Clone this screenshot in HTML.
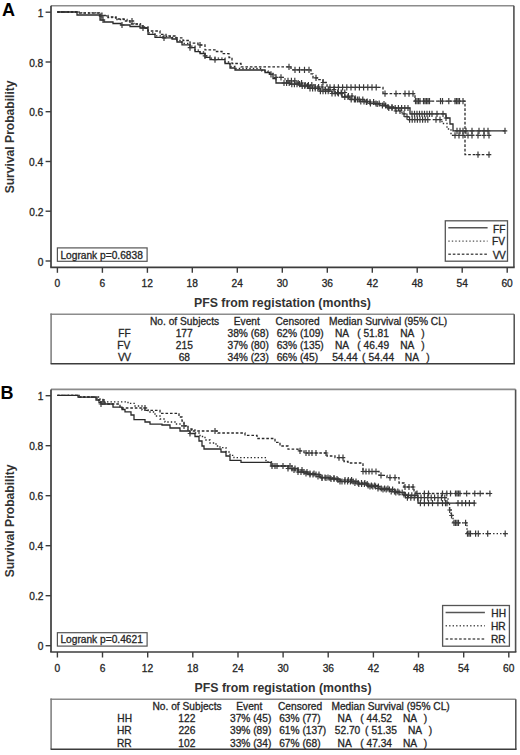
<!DOCTYPE html>
<html><head><meta charset="utf-8"><title>Kaplan-Meier PFS curves</title>
<style>
html,body{margin:0;padding:0;background:#fff;}
body{width:520px;height:755px;overflow:hidden;}
svg{display:block;}
text{font-family:"Liberation Sans", sans-serif;fill:#222;}
.tk{font-size:10.2px;stroke:#2a2a2a;stroke-width:0.3px;}
.tb{font-size:10.2px;stroke:#2a2a2a;stroke-width:0.3px;}
.lg{font-size:10.2px;stroke:#2a2a2a;stroke-width:0.3px;}
.xl{font-size:12.3px;font-weight:bold;fill:#333;}
.yl{font-size:12.1px;font-weight:bold;fill:#333;}
.pl{font-size:18px;font-weight:bold;fill:#000;}
</style></head>
<body>
<svg width="520" height="755" viewBox="0 0 520 755">
<rect width="520" height="755" fill="#fff"/>
<line x1="51" y1="5.8" x2="513.9" y2="5.8" stroke="#8c8c8c" stroke-width="1.6"/>
<line x1="513.9" y1="5.8" x2="513.9" y2="267.3" stroke="#505050" stroke-width="1.6"/>
<line x1="51" y1="5.8" x2="51" y2="267.3" stroke="#3c3c3c" stroke-width="1.7"/>
<line x1="50.2" y1="267.3" x2="514.7" y2="267.3" stroke="#3c3c3c" stroke-width="1.7"/>
<line x1="45.6" y1="261" x2="51" y2="261" stroke="#3c3c3c" stroke-width="1.4"/>
<text x="43.3" y="265.5" class="tk" text-anchor="end">0</text>
<line x1="45.6" y1="211.2" x2="51" y2="211.2" stroke="#3c3c3c" stroke-width="1.4"/>
<text x="43.4" y="215.7" class="tk" text-anchor="end">0.2</text>
<line x1="45.6" y1="161.5" x2="51" y2="161.5" stroke="#3c3c3c" stroke-width="1.4"/>
<text x="43.2" y="166" class="tk" text-anchor="end">0.4</text>
<line x1="45.6" y1="111.7" x2="51" y2="111.7" stroke="#3c3c3c" stroke-width="1.4"/>
<text x="43.3" y="116.2" class="tk" text-anchor="end">0.6</text>
<line x1="45.6" y1="62" x2="51" y2="62" stroke="#3c3c3c" stroke-width="1.4"/>
<text x="43.3" y="66.5" class="tk" text-anchor="end">0.8</text>
<line x1="45.6" y1="12.2" x2="51" y2="12.2" stroke="#3c3c3c" stroke-width="1.4"/>
<text x="43.4" y="16.7" class="tk" text-anchor="end">1</text>
<line x1="57.4" y1="267.3" x2="57.4" y2="272.8" stroke="#3c3c3c" stroke-width="1.4"/>
<text x="57.4" y="286.9" class="tk" text-anchor="middle">0</text>
<line x1="102.4" y1="267.3" x2="102.4" y2="272.8" stroke="#3c3c3c" stroke-width="1.4"/>
<text x="102.3" y="286.9" class="tk" text-anchor="middle">6</text>
<line x1="147.4" y1="267.3" x2="147.4" y2="272.8" stroke="#3c3c3c" stroke-width="1.4"/>
<text x="147.2" y="286.9" class="tk" text-anchor="middle">12</text>
<line x1="192.3" y1="267.3" x2="192.3" y2="272.8" stroke="#3c3c3c" stroke-width="1.4"/>
<text x="192.2" y="286.9" class="tk" text-anchor="middle">18</text>
<line x1="237.3" y1="267.3" x2="237.3" y2="272.8" stroke="#3c3c3c" stroke-width="1.4"/>
<text x="237.2" y="286.9" class="tk" text-anchor="middle">24</text>
<line x1="282.3" y1="267.3" x2="282.3" y2="272.8" stroke="#3c3c3c" stroke-width="1.4"/>
<text x="282.3" y="286.9" class="tk" text-anchor="middle">30</text>
<line x1="327.3" y1="267.3" x2="327.3" y2="272.8" stroke="#3c3c3c" stroke-width="1.4"/>
<text x="327.3" y="286.9" class="tk" text-anchor="middle">36</text>
<line x1="372.3" y1="267.3" x2="372.3" y2="272.8" stroke="#3c3c3c" stroke-width="1.4"/>
<text x="372.4" y="286.9" class="tk" text-anchor="middle">42</text>
<line x1="417.2" y1="267.3" x2="417.2" y2="272.8" stroke="#3c3c3c" stroke-width="1.4"/>
<text x="417.3" y="286.9" class="tk" text-anchor="middle">48</text>
<line x1="462.2" y1="267.3" x2="462.2" y2="272.8" stroke="#3c3c3c" stroke-width="1.4"/>
<text x="462.2" y="286.9" class="tk" text-anchor="middle">54</text>
<line x1="507.2" y1="267.3" x2="507.2" y2="272.8" stroke="#3c3c3c" stroke-width="1.4"/>
<text x="507.1" y="286.9" class="tk" text-anchor="middle">60</text>
<text x="194" y="307" class="xl">PFS from registation (months)</text>
<text transform="translate(14.2,136.9) rotate(-90)" text-anchor="middle" class="yl">Survival Probability</text>
<text x="2" y="15.9" class="pl">A</text>
<polyline points="57.3,12 77,12 77,15 100,15 100,20 104,20 104,22 113,22 113,23.5 121,23.5 121,25 130,25 130,26.5 140,26.5 140,28 148,28 148,34.4 155,34.4 155,37.3 163,37.3 163,37.9 172,37.9 172,39 177,39 177,42 182,42 182,44.8 190,44.8 190,47.7 195,47.7 195,51.7 200,51.7 200,53.5 205,53.5 205,57.3 210,57.3 210,59.6 225,59.6 225,63.5 230,63.5 230,68 235,68 235,70 265,70 265,72.5 270,72.5 270,74.4 273,74.4 273,78.5 276,78.5 276,83 290,83 290,84.2 300,84.2 300,86 310,86 310,88.3 320,88.3 320,91.2 332,91.2 332,93.5 342,93.5 342,97 350,97 350,99.5 360,99.5 360,101.5 370,101.5 370,103.5 380,103.5 380,105.5 388,105.5 388,108 410,108 410,113.8 446,113.8 446,118 450,118 450,124 453,124 453,130.8 505,130.8 505,130.8" fill="none" stroke="#2a2a2a" stroke-width="1.3"/>
<path d="M103 16.9v6.2 M100.7 20h4.6 M122 21.9v6.2 M119.7 25h4.6 M143 24.9v6.2 M140.7 28h4.6 M164 34.8v6.2 M161.7 37.9h4.6 M190 44.6v6.2 M187.7 47.7h4.6 M215 56.5v6.2 M212.7 59.6h4.6 M271 71.3v6.2 M268.7 74.4h4.6 M284 79.9v6.2 M281.7 83h4.6 M286.6 79.9v6.2 M284.3 83h4.6 M289.2 79.9v6.2 M286.9 83h4.6 M291.8 81.1v6.2 M289.5 84.2h4.6 M294.4 81.1v6.2 M292.1 84.2h4.6 M297 81.1v6.2 M294.7 84.2h4.6 M299.6 81.1v6.2 M297.3 84.2h4.6 M302.2 82.9v6.2 M299.9 86h4.6 M304.8 82.9v6.2 M302.5 86h4.6 M307.4 82.9v6.2 M305.1 86h4.6 M310 85.2v6.2 M307.7 88.3h4.6 M312.6 85.2v6.2 M310.3 88.3h4.6 M315.2 85.2v6.2 M312.9 88.3h4.6 M317.8 85.2v6.2 M315.5 88.3h4.6 M320.4 88.1v6.2 M318.1 91.2h4.6 M323 88.1v6.2 M320.7 91.2h4.6 M325.6 88.1v6.2 M323.3 91.2h4.6 M328.2 88.1v6.2 M325.9 91.2h4.6 M332 90.4v6.2 M329.7 93.5h4.6 M335.2 90.4v6.2 M332.9 93.5h4.6 M338.4 90.4v6.2 M336.1 93.5h4.6 M341.6 90.4v6.2 M339.3 93.5h4.6 M344.8 93.9v6.2 M342.5 97h4.6 M348 93.9v6.2 M345.7 97h4.6 M351.2 96.4v6.2 M348.9 99.5h4.6 M354.4 96.4v6.2 M352.1 99.5h4.6 M357.6 96.4v6.2 M355.3 99.5h4.6 M360.8 98.4v6.2 M358.5 101.5h4.6 M364 98.4v6.2 M361.7 101.5h4.6 M367.2 98.4v6.2 M364.9 101.5h4.6 M370.4 100.4v6.2 M368.1 103.5h4.6 M376 100.4v6.2 M373.7 103.5h4.6 M379.2 100.4v6.2 M376.9 103.5h4.6 M382.4 102.4v6.2 M380.1 105.5h4.6 M385.6 102.4v6.2 M383.3 105.5h4.6 M388.8 104.9v6.2 M386.5 108h4.6 M392 104.9v6.2 M389.7 108h4.6 M395.2 104.9v6.2 M392.9 108h4.6 M398.4 104.9v6.2 M396.1 108h4.6 M401.6 104.9v6.2 M399.3 108h4.6 M404.8 104.9v6.2 M402.5 108h4.6 M408 104.9v6.2 M405.7 108h4.6 M412 110.7v6.2 M409.7 113.8h4.6 M414.5 110.7v6.2 M412.2 113.8h4.6 M417 110.7v6.2 M414.7 113.8h4.6 M419.5 110.7v6.2 M417.2 113.8h4.6 M422 110.7v6.2 M419.7 113.8h4.6 M424.5 110.7v6.2 M422.2 113.8h4.6 M427 110.7v6.2 M424.7 113.8h4.6 M429.5 110.7v6.2 M427.2 113.8h4.6 M432 110.7v6.2 M429.7 113.8h4.6 M437 110.7v6.2 M434.7 113.8h4.6 M443 110.7v6.2 M440.7 113.8h4.6 M446 114.9v6.2 M443.7 118h4.6 M457 127.7v6.2 M454.7 130.8h4.6 M460 127.7v6.2 M457.7 130.8h4.6 M463 127.7v6.2 M460.7 130.8h4.6 M466 127.7v6.2 M463.7 130.8h4.6 M472 127.7v6.2 M469.7 130.8h4.6 M479 127.7v6.2 M476.7 130.8h4.6 M484 127.7v6.2 M481.7 130.8h4.6 M488 127.7v6.2 M485.7 130.8h4.6 M505 127.7v6.2 M502.7 130.8h4.6" stroke="#3a3a3a" stroke-width="1.2" fill="none"/>
<polyline points="57.3,12 80,12 80,12.8 100,12.8 100,15.8 108,15.8 108,17.5 116,17.5 116,19.5 127,19.5 127,21 134,21 134,24 142,24 142,27 148,27 148,32.8 155,32.8 155,35.8 163,35.8 163,36.4 172,36.4 172,37.5 177,37.5 177,40.5 182,40.5 182,43.3 190,43.3 190,46.2 195,46.2 195,50.2 200,50.2 200,52 205,52 205,55.8 210,55.8 210,58.1 225,58.1 225,62 230,62 230,66.5 235,66.5 235,68.5 262,68.5 262,71 268,71 268,73.5 275,73.5 275,77.3 285,77.3 285,80.8 295,80.8 295,83 305,83 305,85 315,85 315,87 325,87 325,89.5 335,89.5 335,92.5 345,92.5 345,96 355,96 355,99.5 365,99.5 365,102 375,102 375,104 385,104 385,107 396,107 396,111 402,111 402,113.8 405,113.8 405,116.7 408,116.7 408,119.6 442,119.6 442,123.5 447,123.5 447,129 451,129 451,135.4 490,135.4 490,135.4" fill="none" stroke="#2a2a2a" stroke-width="1.3" stroke-dasharray="1.4,2.1"/>
<path d="M101 12.7v6.2 M98.7 15.8h4.6 M132 17.9v6.2 M129.7 21h4.6 M205 52.7v6.2 M202.7 55.8h4.6 M276 74.2v6.2 M273.7 77.3h4.6 M281 74.2v6.2 M278.7 77.3h4.6 M288 77.7v6.2 M285.7 80.8h4.6 M291.4 77.7v6.2 M289.1 80.8h4.6 M294.8 77.7v6.2 M292.5 80.8h4.6 M298.2 79.9v6.2 M295.9 83h4.6 M301.6 79.9v6.2 M299.3 83h4.6 M305 81.9v6.2 M302.7 85h4.6 M308.4 81.9v6.2 M306.1 85h4.6 M311.8 81.9v6.2 M309.5 85h4.6 M315.2 83.9v6.2 M312.9 87h4.6 M318.6 83.9v6.2 M316.3 87h4.6 M322 83.9v6.2 M319.7 87h4.6 M325.4 86.4v6.2 M323.1 89.5h4.6 M328.8 86.4v6.2 M326.5 89.5h4.6 M334 86.4v6.2 M331.7 89.5h4.6 M337.6 89.4v6.2 M335.3 92.5h4.6 M341.2 89.4v6.2 M338.9 92.5h4.6 M344.8 89.4v6.2 M342.5 92.5h4.6 M348.4 92.9v6.2 M346.1 96h4.6 M352 92.9v6.2 M349.7 96h4.6 M355.6 96.4v6.2 M353.3 99.5h4.6 M359.2 96.4v6.2 M356.9 99.5h4.6 M362.8 96.4v6.2 M360.5 99.5h4.6 M366.4 98.9v6.2 M364.1 102h4.6 M370 98.9v6.2 M367.7 102h4.6 M373.6 98.9v6.2 M371.3 102h4.6 M377.2 100.9v6.2 M374.9 104h4.6 M384 100.9v6.2 M381.7 104h4.6 M388 103.9v6.2 M385.7 107h4.6 M392 103.9v6.2 M389.7 107h4.6 M396 107.9v6.2 M393.7 111h4.6 M400 107.9v6.2 M397.7 111h4.6 M404 110.7v6.2 M401.7 113.8h4.6 M407 113.6v6.2 M404.7 116.7h4.6 M409.6 116.5v6.2 M407.3 119.6h4.6 M412.2 116.5v6.2 M409.9 119.6h4.6 M414.8 116.5v6.2 M412.5 119.6h4.6 M417.4 116.5v6.2 M415.1 119.6h4.6 M420 116.5v6.2 M417.7 119.6h4.6 M422.6 116.5v6.2 M420.3 119.6h4.6 M425.2 116.5v6.2 M422.9 119.6h4.6 M427.8 116.5v6.2 M425.5 119.6h4.6 M436 116.5v6.2 M433.7 119.6h4.6 M440 116.5v6.2 M437.7 119.6h4.6 M455 132.3v6.2 M452.7 135.4h4.6 M459 132.3v6.2 M456.7 135.4h4.6 M463 132.3v6.2 M460.7 135.4h4.6 M468 132.3v6.2 M465.7 135.4h4.6 M472 132.3v6.2 M469.7 135.4h4.6 M478 132.3v6.2 M475.7 135.4h4.6 M484 132.3v6.2 M481.7 135.4h4.6 M489 132.3v6.2 M486.7 135.4h4.6" stroke="#3a3a3a" stroke-width="1.2" fill="none"/>
<polyline points="57.3,12 78,12 78,13 100,13 100,15.5 108,15.5 108,17 116,17 116,19 124,19 124,21 130,21 130,24 140,24 140,26 143,26 143,28 148,28 148,31 160,31 160,34.4 166,34.4 166,36 175,36 175,37.9 183,37.9 183,40.5 190,40.5 190,43.1 198,43.1 198,45 205,45 205,49.8 215,49.8 215,51.5 222,51.5 222,53.7 229,53.7 229,57.5 232,57.5 232,63.5 241,63.5 241,66.9 291,66.9 291,69.8 311,69.8 311,73.8 313,73.8 313,77.9 318,77.9 318,79.6 323,79.6 323,82.5 327,82.5 327,87.3 383,87.3 383,93.7 415,93.7 415,101.2 465,101.2 465,154.6 490,154.6 490,154.6" fill="none" stroke="#2a2a2a" stroke-width="1.3" stroke-dasharray="2.6,1.9"/>
<path d="M102 12.4v6.2 M99.7 15.5h4.6 M200 41.9v6.2 M197.7 45h4.6 M289 63.8v6.2 M286.7 66.9h4.6 M295 66.7v6.2 M292.7 69.8h4.6 M299.5 66.7v6.2 M297.2 69.8h4.6 M304.5 66.7v6.2 M302.2 69.8h4.6 M309 66.7v6.2 M306.7 69.8h4.6 M316 74.8v6.2 M313.7 77.9h4.6 M323 79.4v6.2 M320.7 82.5h4.6 M330 84.2v6.2 M327.7 87.3h4.6 M334.2 84.2v6.2 M331.9 87.3h4.6 M338.4 84.2v6.2 M336.1 87.3h4.6 M342.6 84.2v6.2 M340.3 87.3h4.6 M346.8 84.2v6.2 M344.5 87.3h4.6 M351 84.2v6.2 M348.7 87.3h4.6 M355.2 84.2v6.2 M352.9 87.3h4.6 M359.4 84.2v6.2 M357.1 87.3h4.6 M363.6 84.2v6.2 M361.3 87.3h4.6 M367.8 84.2v6.2 M365.5 87.3h4.6 M372 84.2v6.2 M369.7 87.3h4.6 M376.2 84.2v6.2 M373.9 87.3h4.6 M385 90.6v6.2 M382.7 93.7h4.6 M396 90.6v6.2 M393.7 93.7h4.6 M405 90.6v6.2 M402.7 93.7h4.6 M409 90.6v6.2 M406.7 93.7h4.6 M413 90.6v6.2 M410.7 93.7h4.6 M415.5 98.1v6.2 M413.2 101.2h4.6 M417 98.1v6.2 M414.7 101.2h4.6 M418.5 98.1v6.2 M416.2 101.2h4.6 M420 98.1v6.2 M417.7 101.2h4.6 M423.5 98.1v6.2 M421.2 101.2h4.6 M425 98.1v6.2 M422.7 101.2h4.6 M426.5 98.1v6.2 M424.2 101.2h4.6 M428 98.1v6.2 M425.7 101.2h4.6 M429.5 98.1v6.2 M427.2 101.2h4.6 M440.5 98.1v6.2 M438.2 101.2h4.6 M442.5 98.1v6.2 M440.2 101.2h4.6 M448.8 98.1v6.2 M446.5 101.2h4.6 M455 98.1v6.2 M452.7 101.2h4.6 M456.5 98.1v6.2 M454.2 101.2h4.6 M458 98.1v6.2 M455.7 101.2h4.6 M459.5 98.1v6.2 M457.2 101.2h4.6 M463 98.1v6.2 M460.7 101.2h4.6 M478 151.5v6.2 M475.7 154.6h4.6 M489 151.5v6.2 M486.7 154.6h4.6" stroke="#3a3a3a" stroke-width="1.2" fill="none"/>
<rect x="57.4" y="247.9" width="89.7" height="13.4" fill="#fff" stroke="#555" stroke-width="1.2"/>
<text x="60.4" y="258.6" class="lg">Logrank p=0.6838</text>
<rect x="445.3" y="220.8" width="62.2" height="40.4" fill="#fff" stroke="#555" stroke-width="1.3"/>
<line x1="448.3" y1="227.8" x2="487.6" y2="227.8" stroke="#555" stroke-width="1.4"/>
<text x="505.5" y="232.6" class="lg" text-anchor="end">FF</text>
<line x1="448.3" y1="241.1" x2="487.6" y2="241.1" stroke="#555" stroke-width="1.4" stroke-dasharray="1.4,2.1"/>
<text x="505.1" y="245.2" class="lg" text-anchor="end">FV</text>
<line x1="448.3" y1="254.3" x2="487.6" y2="254.3" stroke="#555" stroke-width="1.4" stroke-dasharray="2.6,1.9"/>
<text x="505.1" y="258.5" class="lg" text-anchor="end" letter-spacing="-0.6">VV</text>
<line x1="50.4" y1="314.2" x2="514.2" y2="314.2" stroke="#8c8c8c" stroke-width="1.5"/>
<line x1="51.1" y1="313.4" x2="51.1" y2="363.8" stroke="#7a7a7a" stroke-width="1.5"/>
<line x1="514.2" y1="314.2" x2="514.2" y2="363.8" stroke="#505050" stroke-width="1.5"/>
<line x1="50.6" y1="363.8" x2="515" y2="363.8" stroke="#3c3c3c" stroke-width="1.6"/>
<text x="150" y="324.6" class="tb">No. of Subjects</text>
<text x="233.8" y="324.6" class="tb">Event</text>
<text x="275.5" y="324.6" class="tb">Censored</text>
<text x="328.9" y="324.6" class="tb">Median Survival (95% CL)</text>
<text x="130.8" y="336.8" class="tb" text-anchor="end">FF</text>
<text x="184.2" y="336.8" class="tb" text-anchor="middle">177</text>
<text x="227.5" y="336.8" class="tb">38% (68)</text>
<text x="276.7" y="336.8" class="tb">62% (109)</text>
<text x="335" y="336.8" class="tb">NA</text>
<text x="357.2" y="336.8" class="tb">(</text>
<text x="363.4" y="336.8" class="tb">51.81</text>
<text x="400.2" y="336.8" class="tb">NA</text>
<text x="421.2" y="336.8" class="tb">)</text>
<text x="130.4" y="349" class="tb" text-anchor="end">FV</text>
<text x="184.3" y="349" class="tb" text-anchor="middle">215</text>
<text x="227.5" y="349" class="tb">37% (80)</text>
<text x="276.7" y="349" class="tb">63% (135)</text>
<text x="335" y="349" class="tb">NA</text>
<text x="357.2" y="349" class="tb">(</text>
<text x="363.6" y="349" class="tb">46.49</text>
<text x="400.2" y="349" class="tb">NA</text>
<text x="421.2" y="349" class="tb">)</text>
<text x="130.4" y="361.2" class="tb" text-anchor="end" letter-spacing="-0.6">VV</text>
<text x="184.3" y="361.2" class="tb" text-anchor="middle">68</text>
<text x="227.5" y="361.2" class="tb">34% (23)</text>
<text x="276.7" y="361.2" class="tb">66% (45)</text>
<text x="332.2" y="361.2" class="tb">54.44</text>
<text x="362" y="361.2" class="tb">(</text>
<text x="368.6" y="361.2" class="tb">54.44</text>
<text x="404.8" y="361.2" class="tb">NA</text>
<text x="426.2" y="361.2" class="tb">)</text>
<line x1="51" y1="389.4" x2="515.6" y2="389.4" stroke="#8c8c8c" stroke-width="1.6"/>
<line x1="515.6" y1="389.4" x2="515.6" y2="652" stroke="#505050" stroke-width="1.6"/>
<line x1="51" y1="389.4" x2="51" y2="652" stroke="#3c3c3c" stroke-width="1.7"/>
<line x1="50.2" y1="652" x2="516.4" y2="652" stroke="#3c3c3c" stroke-width="1.7"/>
<line x1="45.6" y1="645.7" x2="51" y2="645.7" stroke="#3c3c3c" stroke-width="1.4"/>
<text x="43.3" y="650.2" class="tk" text-anchor="end">0</text>
<line x1="45.6" y1="595.7" x2="51" y2="595.7" stroke="#3c3c3c" stroke-width="1.4"/>
<text x="43.4" y="600.2" class="tk" text-anchor="end">0.2</text>
<line x1="45.6" y1="545.7" x2="51" y2="545.7" stroke="#3c3c3c" stroke-width="1.4"/>
<text x="43.2" y="550.2" class="tk" text-anchor="end">0.4</text>
<line x1="45.6" y1="495.7" x2="51" y2="495.7" stroke="#3c3c3c" stroke-width="1.4"/>
<text x="43.3" y="500.2" class="tk" text-anchor="end">0.6</text>
<line x1="45.6" y1="445.7" x2="51" y2="445.7" stroke="#3c3c3c" stroke-width="1.4"/>
<text x="43.3" y="450.2" class="tk" text-anchor="end">0.8</text>
<line x1="45.6" y1="395.7" x2="51" y2="395.7" stroke="#3c3c3c" stroke-width="1.4"/>
<text x="43.4" y="400.2" class="tk" text-anchor="end">1</text>
<line x1="57.4" y1="652" x2="57.4" y2="657.5" stroke="#3c3c3c" stroke-width="1.4"/>
<text x="57.4" y="671.6" class="tk" text-anchor="middle">0</text>
<line x1="102.5" y1="652" x2="102.5" y2="657.5" stroke="#3c3c3c" stroke-width="1.4"/>
<text x="102.5" y="671.6" class="tk" text-anchor="middle">6</text>
<line x1="147.7" y1="652" x2="147.7" y2="657.5" stroke="#3c3c3c" stroke-width="1.4"/>
<text x="147.5" y="671.6" class="tk" text-anchor="middle">12</text>
<line x1="192.8" y1="652" x2="192.8" y2="657.5" stroke="#3c3c3c" stroke-width="1.4"/>
<text x="192.7" y="671.6" class="tk" text-anchor="middle">18</text>
<line x1="238" y1="652" x2="238" y2="657.5" stroke="#3c3c3c" stroke-width="1.4"/>
<text x="237.9" y="671.6" class="tk" text-anchor="middle">24</text>
<line x1="283.1" y1="652" x2="283.1" y2="657.5" stroke="#3c3c3c" stroke-width="1.4"/>
<text x="283.1" y="671.6" class="tk" text-anchor="middle">30</text>
<line x1="328.2" y1="652" x2="328.2" y2="657.5" stroke="#3c3c3c" stroke-width="1.4"/>
<text x="328.3" y="671.6" class="tk" text-anchor="middle">36</text>
<line x1="373.4" y1="652" x2="373.4" y2="657.5" stroke="#3c3c3c" stroke-width="1.4"/>
<text x="373.5" y="671.6" class="tk" text-anchor="middle">42</text>
<line x1="418.5" y1="652" x2="418.5" y2="657.5" stroke="#3c3c3c" stroke-width="1.4"/>
<text x="418.6" y="671.6" class="tk" text-anchor="middle">48</text>
<line x1="463.7" y1="652" x2="463.7" y2="657.5" stroke="#3c3c3c" stroke-width="1.4"/>
<text x="463.6" y="671.6" class="tk" text-anchor="middle">54</text>
<line x1="508.8" y1="652" x2="508.8" y2="657.5" stroke="#3c3c3c" stroke-width="1.4"/>
<text x="508.7" y="671.6" class="tk" text-anchor="middle">60</text>
<text x="194.6" y="692.3" class="xl">PFS from registation (months)</text>
<text transform="translate(14.2,520.9) rotate(-90)" text-anchor="middle" class="yl">Survival Probability</text>
<text x="0.4" y="398.9" class="pl">B</text>
<polyline points="57.4,395.4 78,395.4 78,397.2 96,397.2 96,400 99,400 99,402.6 101,402.6 101,404 113,404 113,407.2 122,407.2 122,409.5 125,409.5 125,411.8 131,411.8 131,415 134,415 134,419.6 145,419.6 145,422 150,422 150,424.2 162,424.2 162,425 170,425 170,428 180,428 180,431 190,431 190,433.5 195,433.5 195,436.5 199,436.5 199,441 202,441 202,446 204,446 204,449 221,449 221,452 226,452 226,456 230,456 230,460.3 241,460.3 241,462.3 271,462.3 271,466 288,466 288,468.5 298,468.5 298,472 308,472 308,474.5 320,474.5 320,477.5 330,477.5 330,479 340,479 340,481.5 358,481.5 358,484 368,484 368,486.5 380,486.5 380,489.5 395,489.5 395,492.5 405,492.5 405,495.4 418,495.4 418,503.2 475,503.2 475,503.2" fill="none" stroke="#2a2a2a" stroke-width="1.3"/>
<path d="M101 400.9v6.2 M98.7 404h4.6 M190 430.4v6.2 M187.7 433.5h4.6 M272 462.9v6.2 M269.7 466h4.6 M277 462.9v6.2 M274.7 466h4.6 M283 462.9v6.2 M280.7 466h4.6 M288 465.4v6.2 M285.7 468.5h4.6 M292 465.4v6.2 M289.7 468.5h4.6 M295 465.4v6.2 M292.7 468.5h4.6 M298 468.9v6.2 M295.7 472h4.6 M301 468.9v6.2 M298.7 472h4.6 M304 468.9v6.2 M301.7 472h4.6 M307 468.9v6.2 M304.7 472h4.6 M310 471.4v6.2 M307.7 474.5h4.6 M313 471.4v6.2 M310.7 474.5h4.6 M316 471.4v6.2 M313.7 474.5h4.6 M319 471.4v6.2 M316.7 474.5h4.6 M322 474.4v6.2 M319.7 477.5h4.6 M325 474.4v6.2 M322.7 477.5h4.6 M328 474.4v6.2 M325.7 477.5h4.6 M331 475.9v6.2 M328.7 479h4.6 M334 475.9v6.2 M331.7 479h4.6 M337 475.9v6.2 M334.7 479h4.6 M340 478.4v6.2 M337.7 481.5h4.6 M342 478.4v6.2 M339.7 481.5h4.6 M344.8 478.4v6.2 M342.5 481.5h4.6 M347.6 478.4v6.2 M345.3 481.5h4.6 M350.4 478.4v6.2 M348.1 481.5h4.6 M353.2 478.4v6.2 M350.9 481.5h4.6 M356 478.4v6.2 M353.7 481.5h4.6 M358.8 480.9v6.2 M356.5 484h4.6 M361.6 480.9v6.2 M359.3 484h4.6 M364.4 480.9v6.2 M362.1 484h4.6 M367.2 480.9v6.2 M364.9 484h4.6 M370 483.4v6.2 M367.7 486.5h4.6 M372.8 483.4v6.2 M370.5 486.5h4.6 M375.6 483.4v6.2 M373.3 486.5h4.6 M378.4 483.4v6.2 M376.1 486.5h4.6 M383 486.4v6.2 M380.7 489.5h4.6 M386.2 486.4v6.2 M383.9 489.5h4.6 M389.4 486.4v6.2 M387.1 489.5h4.6 M392.6 486.4v6.2 M390.3 489.5h4.6 M395.8 489.4v6.2 M393.5 492.5h4.6 M399 489.4v6.2 M396.7 492.5h4.6 M402.2 489.4v6.2 M399.9 492.5h4.6 M405.4 492.3v6.2 M403.1 495.4h4.6 M408.6 492.3v6.2 M406.3 495.4h4.6 M411.8 492.3v6.2 M409.5 495.4h4.6 M415 492.3v6.2 M412.7 495.4h4.6 M420.4 500.1v6.2 M418.1 503.2h4.6 M424.4 500.1v6.2 M422.1 503.2h4.6 M428.5 500.1v6.2 M426.2 503.2h4.6 M432.5 500.1v6.2 M430.2 503.2h4.6 M437.9 500.1v6.2 M435.6 503.2h4.6 M442.5 500.1v6.2 M440.2 503.2h4.6 M445.5 500.1v6.2 M443.2 503.2h4.6 M447 500.1v6.2 M444.7 503.2h4.6 M458 500.1v6.2 M455.7 503.2h4.6 M462 500.1v6.2 M459.7 503.2h4.6 M465.6 500.1v6.2 M463.3 503.2h4.6 M469.4 500.1v6.2 M467.1 503.2h4.6 M474.2 500.1v6.2 M471.9 503.2h4.6" stroke="#3a3a3a" stroke-width="1.2" fill="none"/>
<polyline points="57.4,395.4 80,395.4 80,397 100,397 100,401.8 128,401.8 128,403.4 135,403.4 135,406 142,406 142,410 148,410 148,412 155,412 155,416 160,416 160,419 165,419 165,422 175,422 175,424 180,424 180,425.8 188,425.8 188,430 195,430 195,433 200,433 200,436.5 205,436.5 205,440 210,440 210,443 216,443 216,446 220,446 220,447.7 226,447.7 226,452 230,452 230,455.4 234,455.4 234,457.7 266,457.7 266,462 273,462 273,466 292,466 292,470 303,470 303,473.5 315,473.5 315,476.5 322,476.5 322,478 335,478 335,480 352,480 352,483 366,483 366,485.5 378,485.5 378,488.5 390,488.5 390,491.5 400,491.5 400,494.5 407,494.5 407,497.7 448,497.7 448,504 449.5,504 449.5,510 451,510 451,515.5 453,515.5 453,522.8 467,522.8 467,533.7 507.8,533.7 507.8,533.7" fill="none" stroke="#2a2a2a" stroke-width="1.3" stroke-dasharray="1.4,2.1"/>
<path d="M103 398.7v6.2 M100.7 401.8h4.6 M275 462.9v6.2 M272.7 466h4.6 M290 462.9v6.2 M287.7 466h4.6 M294 466.9v6.2 M291.7 470h4.6 M298 466.9v6.2 M295.7 470h4.6 M302 466.9v6.2 M299.7 470h4.6 M306 470.4v6.2 M303.7 473.5h4.6 M310 470.4v6.2 M307.7 473.5h4.6 M314 470.4v6.2 M311.7 473.5h4.6 M318 473.4v6.2 M315.7 476.5h4.6 M322 474.9v6.2 M319.7 478h4.6 M326 474.9v6.2 M323.7 478h4.6 M330 474.9v6.2 M327.7 478h4.6 M334 474.9v6.2 M331.7 478h4.6 M338 476.9v6.2 M335.7 480h4.6 M345 476.9v6.2 M342.7 480h4.6 M348.3 476.9v6.2 M346 480h4.6 M351.6 476.9v6.2 M349.3 480h4.6 M354.9 479.9v6.2 M352.6 483h4.6 M358.2 479.9v6.2 M355.9 483h4.6 M361.5 479.9v6.2 M359.2 483h4.6 M364.8 479.9v6.2 M362.5 483h4.6 M368.1 482.4v6.2 M365.8 485.5h4.6 M371.4 482.4v6.2 M369.1 485.5h4.6 M374.7 482.4v6.2 M372.4 485.5h4.6 M378 485.4v6.2 M375.7 488.5h4.6 M381.3 485.4v6.2 M379 488.5h4.6 M384.6 485.4v6.2 M382.3 488.5h4.6 M387.9 485.4v6.2 M385.6 488.5h4.6 M391.2 488.4v6.2 M388.9 491.5h4.6 M394.5 488.4v6.2 M392.2 491.5h4.6 M397.8 488.4v6.2 M395.5 491.5h4.6 M404 491.4v6.2 M401.7 494.5h4.6 M407.4 494.6v6.2 M405.1 497.7h4.6 M410.8 494.6v6.2 M408.5 497.7h4.6 M414.2 494.6v6.2 M411.9 497.7h4.6 M417.6 494.6v6.2 M415.3 497.7h4.6 M421 494.6v6.2 M418.7 497.7h4.6 M424.4 494.6v6.2 M422.1 497.7h4.6 M427.8 494.6v6.2 M425.5 497.7h4.6 M431.2 494.6v6.2 M428.9 497.7h4.6 M434.6 494.6v6.2 M432.3 497.7h4.6 M438 494.6v6.2 M435.7 497.7h4.6 M441.4 494.6v6.2 M439.1 497.7h4.6 M444.8 494.6v6.2 M442.5 497.7h4.6 M449.7 506.9v6.2 M447.4 510h4.6 M451.5 512.4v6.2 M449.2 515.5h4.6 M454 519.7v6.2 M451.7 522.8h4.6 M455.5 519.7v6.2 M453.2 522.8h4.6 M457 519.7v6.2 M454.7 522.8h4.6 M458.5 519.7v6.2 M456.2 522.8h4.6 M465.6 519.7v6.2 M463.3 522.8h4.6 M467.5 530.6v6.2 M465.2 533.7h4.6 M469 530.6v6.2 M466.7 533.7h4.6 M470.5 530.6v6.2 M468.2 533.7h4.6 M475.6 530.6v6.2 M473.3 533.7h4.6 M478.3 530.6v6.2 M476 533.7h4.6 M487.7 530.6v6.2 M485.4 533.7h4.6 M505.2 530.6v6.2 M502.9 533.7h4.6" stroke="#3a3a3a" stroke-width="1.2" fill="none"/>
<polyline points="57.4,395.4 78,395.4 78,397 97,397 97,400 105,400 105,404 120,404 120,408 146,408 146,410.4 160,410.4 160,413.3 179,413.3 179,417 182,417 182,421 184,421 184,425.8 188,425.8 188,429 192,429 192,431 218,431 218,433 245,433 245,435.4 257,435.4 257,438.5 275,438.5 275,442.3 280,442.3 280,446 288,446 288,449.2 298,449.2 298,450.8 304,450.8 304,453 327,453 327,456 335,456 335,457.7 344,457.7 344,461.5 348,461.5 348,463 363,463 363,471.5 379,471.5 379,475.4 387,475.4 387,477.7 399,477.7 399,483 404,483 404,487 414,487 414,490.8 416,490.8 416,493.5 491,493.5 491,493.5" fill="none" stroke="#2a2a2a" stroke-width="1.3" stroke-dasharray="2.6,1.9"/>
<path d="M145 404.9v6.2 M142.7 408h4.6 M184 422.7v6.2 M181.7 425.8h4.6 M215 427.9v6.2 M212.7 431h4.6 M300 447.7v6.2 M297.7 450.8h4.6 M306 449.9v6.2 M303.7 453h4.6 M309 449.9v6.2 M306.7 453h4.6 M312 449.9v6.2 M309.7 453h4.6 M316 449.9v6.2 M313.7 453h4.6 M326 449.9v6.2 M323.7 453h4.6 M339 454.6v6.2 M336.7 457.7h4.6 M343 454.6v6.2 M340.7 457.7h4.6 M363 468.4v6.2 M360.7 471.5h4.6 M366 468.4v6.2 M363.7 471.5h4.6 M369 468.4v6.2 M366.7 471.5h4.6 M372 468.4v6.2 M369.7 471.5h4.6 M376 468.4v6.2 M373.7 471.5h4.6 M381 472.3v6.2 M378.7 475.4h4.6 M390 474.6v6.2 M387.7 477.7h4.6 M395 474.6v6.2 M392.7 477.7h4.6 M405 483.9v6.2 M402.7 487h4.6 M409 483.9v6.2 M406.7 487h4.6 M413 483.9v6.2 M410.7 487h4.6 M417 490.4v6.2 M414.7 493.5h4.6 M424.4 490.4v6.2 M422.1 493.5h4.6 M428.5 490.4v6.2 M426.2 493.5h4.6 M442.5 490.4v6.2 M440.2 493.5h4.6 M446.8 490.4v6.2 M444.5 493.5h4.6 M450.5 490.4v6.2 M448.2 493.5h4.6 M455.5 490.4v6.2 M453.2 493.5h4.6 M457 490.4v6.2 M454.7 493.5h4.6 M458.5 490.4v6.2 M456.2 493.5h4.6 M460 490.4v6.2 M457.7 493.5h4.6 M466.7 490.4v6.2 M464.4 493.5h4.6 M474.8 490.4v6.2 M472.5 493.5h4.6 M480.2 490.4v6.2 M477.9 493.5h4.6 M489.9 490.4v6.2 M487.6 493.5h4.6" stroke="#3a3a3a" stroke-width="1.2" fill="none"/>
<rect x="57.4" y="632.7" width="89.7" height="13.4" fill="#fff" stroke="#555" stroke-width="1.2"/>
<text x="60.4" y="643.4" class="lg">Logrank p=0.4621</text>
<rect x="442.6" y="605.5" width="66.8" height="40.7" fill="#fff" stroke="#555" stroke-width="1.3"/>
<line x1="445.6" y1="612.5" x2="484.9" y2="612.5" stroke="#555" stroke-width="1.4"/>
<text x="506" y="617.3" class="lg" text-anchor="end">HH</text>
<line x1="445.6" y1="625.8" x2="484.9" y2="625.8" stroke="#555" stroke-width="1.4" stroke-dasharray="1.4,2.1"/>
<text x="505.7" y="630" class="lg" text-anchor="end">HR</text>
<line x1="445.6" y1="639" x2="484.9" y2="639" stroke="#555" stroke-width="1.4" stroke-dasharray="2.6,1.9"/>
<text x="505.7" y="643.2" class="lg" text-anchor="end">RR</text>
<line x1="50.4" y1="699.3" x2="515.8" y2="699.3" stroke="#8c8c8c" stroke-width="1.5"/>
<line x1="51.1" y1="698.5" x2="51.1" y2="749.2" stroke="#7a7a7a" stroke-width="1.5"/>
<line x1="515.8" y1="699.3" x2="515.8" y2="749.2" stroke="#505050" stroke-width="1.5"/>
<line x1="50.6" y1="749.2" x2="516.6" y2="749.2" stroke="#3c3c3c" stroke-width="1.6"/>
<text x="152.5" y="709.5" class="tb">No. of Subjects</text>
<text x="236.3" y="709.5" class="tb">Event</text>
<text x="278" y="709.5" class="tb">Censored</text>
<text x="331.4" y="709.5" class="tb">Median Survival (95% CL)</text>
<text x="132" y="721.9" class="tb" text-anchor="end">HH</text>
<text x="186.8" y="721.9" class="tb" text-anchor="middle">122</text>
<text x="230" y="721.9" class="tb">37% (45)</text>
<text x="279.2" y="721.9" class="tb">63% (77)</text>
<text x="337.6" y="721.9" class="tb">NA</text>
<text x="360.3" y="721.9" class="tb">(</text>
<text x="366.5" y="721.9" class="tb">44.52</text>
<text x="403" y="721.9" class="tb">NA</text>
<text x="423.7" y="721.9" class="tb">)</text>
<text x="131.7" y="734.3" class="tb" text-anchor="end">HR</text>
<text x="186.9" y="734.3" class="tb" text-anchor="middle">226</text>
<text x="230" y="734.3" class="tb">39% (89)</text>
<text x="279.2" y="734.3" class="tb">61% (137)</text>
<text x="334.8" y="734.3" class="tb">52.70</text>
<text x="364.9" y="734.3" class="tb">(</text>
<text x="371.4" y="734.3" class="tb">51.35</text>
<text x="408" y="734.3" class="tb">NA</text>
<text x="428.7" y="734.3" class="tb">)</text>
<text x="131.7" y="746.7" class="tb" text-anchor="end">RR</text>
<text x="186.8" y="746.7" class="tb" text-anchor="middle">102</text>
<text x="230" y="746.7" class="tb">33% (34)</text>
<text x="279.2" y="746.7" class="tb">67% (68)</text>
<text x="337.6" y="746.7" class="tb">NA</text>
<text x="360.3" y="746.7" class="tb">(</text>
<text x="366.5" y="746.7" class="tb">47.34</text>
<text x="403" y="746.7" class="tb">NA</text>
<text x="423.7" y="746.7" class="tb">)</text>
</svg>
</body></html>
